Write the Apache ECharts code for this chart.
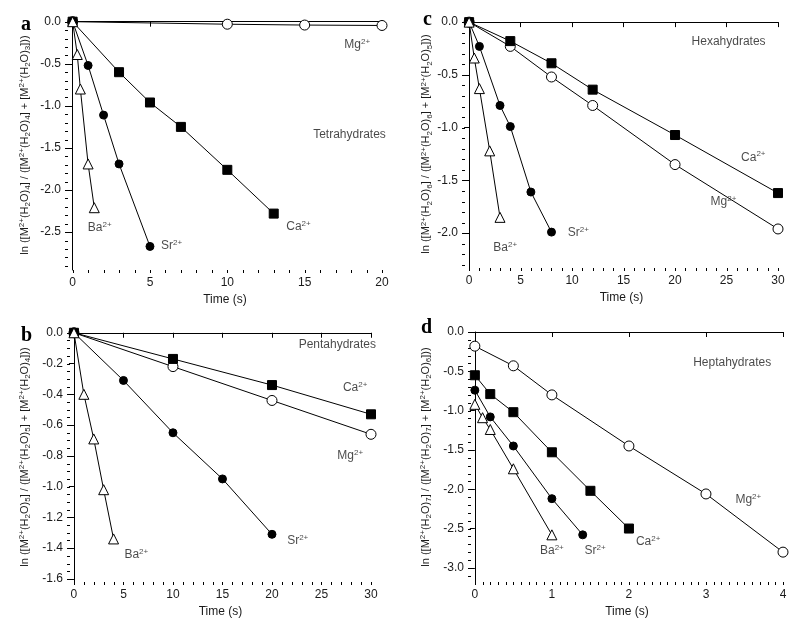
<!DOCTYPE html>
<html>
<head>
<meta charset="utf-8">
<script src="https://cdn.jsdelivr.net/npm/echarts@6/dist/echarts.min.js"></script>
<style>html,body{margin:0;padding:0;background:#fff}#c{width:800px;height:624px}</style>
</head>
<body>
<div id="c"></div>
<script>
// ---------- DATA ----------
// Panel a: tetrahydrates
const tetraMg = [[0,0],[10,-0.03],[15,-0.04],[20,-0.045]];
const tetraCa = [[0,0],[3,-0.6],[5,-0.96],[7,-1.25],[10,-1.76],[13,-2.28]];
const tetraSr = [[0,0],[1,-0.52],[2,-1.11],[3,-1.69],[5,-2.67]];
const tetraBa = [[0,0],[0.3,-0.39],[0.5,-0.8],[1,-1.69],[1.4,-2.21]];
// Panel b: pentahydrates
const pentaMg = [[0,0],[10,-0.22],[20,-0.44],[30,-0.66]];
const pentaCa = [[0,0],[10,-0.17],[20,-0.34],[30,-0.53]];
const pentaSr = [[0,0],[5,-0.31],[10,-0.65],[15,-0.95],[20,-1.31]];
const pentaBa = [[0,0],[1,-0.4],[2,-0.69],[3,-1.02],[4,-1.34]];
// Panel c: hexahydrates
const hexaMg = [[0,0],[4,-0.23],[8,-0.52],[12,-0.79],[20,-1.35],[30,-1.96]];
const hexaCa = [[0,0],[4,-0.18],[8,-0.39],[12,-0.64],[20,-1.07],[30,-1.62]];
const hexaSr = [[0,0],[1,-0.23],[3,-0.79],[4,-0.99],[6,-1.61],[8,-1.99]];
const hexaBa = [[0,0],[0.5,-0.34],[1,-0.63],[2,-1.22],[3,-1.85]];
// Panel d: heptahydrates
const heptaMg = [[0,-0.18],[0.5,-0.43],[1,-0.8],[2,-1.45],[3,-2.06],[4,-2.8]];
const heptaCa = [[0,-0.55],[0.2,-0.79],[0.5,-1.02],[1,-1.53],[1.5,-2.02],[2,-2.5]];
const heptaSr = [[0,-0.74],[0.2,-1.08],[0.5,-1.45],[1,-2.12],[1.4,-2.58]];
const heptaBa = [[0,-0.92],[0.1,-1.09],[0.2,-1.24],[0.5,-1.74],[1,-2.58]];

// tick labels
const xTicksA = [0,5,10,15,20];
const xTicksBC = [0,5,10,15,20,25,30];
const xTicksD = [0,1,2,3,4];
const yTicksA = [0,-0.5,-1,-1.5,-2,-2.5];
const yTicksB = [0,-0.2,-0.4,-0.6,-0.8,-1,-1.2,-1.4,-1.6];
const yTicksC = [0,-0.5,-1,-1.5,-2];
const yTicksD = [0,-0.5,-1,-1.5,-2,-2.5,-3];

// annotation texts [x, y, text]
const notesA = [[18.4,-0.27,'Mg{sup|2+}'],[17.9,-1.34,'Tetrahydrates'],[14.6,-2.44,'Ca{sup|2+}'],[6.4,-2.66,'Sr{sup|2+}'],[1.75,-2.45,'Ba{sup|2+}']];
const notesB = [[26.6,-0.08,'Pentahydrates'],[28.4,-0.36,'Ca{sup|2+}'],[27.9,-0.8,'Mg{sup|2+}'],[22.6,-1.35,'Sr{sup|2+}'],[6.3,-1.44,'Ba{sup|2+}']];
const notesC = [[25.2,-0.19,'Hexahydrates'],[27.6,-1.28,'Ca{sup|2+}'],[24.7,-1.7,'Mg{sup|2+}'],[10.6,-2.0,'Sr{sup|2+}'],[3.5,-2.14,'Ba{sup|2+}']];
const notesD = [[3.34,-0.39,'Heptahydrates'],[3.55,-2.13,'Mg{sup|2+}'],[2.25,-2.67,'Ca{sup|2+}'],[1.56,-2.78,'Sr{sup|2+}'],[1.0,-2.78,'Ba{sup|2+}']];

const yNameA = 'ln ([M{sup|2+}(H{sub|2}O){sub|4}] / ([M{sup|2+}(H{sub|2}O){sub|4}] + [M{sup|2+}(H{sub|2}O){sub|3}]))';
const yNameB = 'ln ([M{sup|2+}(H{sub|2}O){sub|5}] / ([M{sup|2+}(H{sub|2}O){sub|5}] + [M{sup|2+}(H{sub|2}O){sub|4}]))';
const yNameC = 'ln ([M{sup|2+}(H{sub|2}O){sub|6}] / ([M{sup|2+}(H{sub|2}O){sub|6}] + [M{sup|2+}(H{sub|2}O){sub|5}]))';
const yNameD = 'ln ([M{sup|2+}(H{sub|2}O){sub|7}] / ([M{sup|2+}(H{sub|2}O){sub|7}] + [M{sup|2+}(H{sub|2}O){sub|6}]))';

// ---------- CHART ----------
const FONT = '"Liberation Sans", Arial, sans-serif';
const TXT = '#1a1a1a';
function steps(a, b, s){ const out=[]; const n=Math.round((b-a)/s); for(let i=0;i<=n;i++) out.push(+(a+i*s).toFixed(4)); return out; }
const rich = {
  sup:{fontSize:8, verticalAlign:'top', lineHeight:14, fontFamily:FONT, color:TXT},
  sub:{fontSize:8, verticalAlign:'bottom', lineHeight:14, fontFamily:FONT, color:TXT}
};

const panels = [
  {grid:{left:68, top:20, width:314, height:250}, xMin:-0.3, xMax:20, yMin:-2.95, yMax:0.02,
   xT:xTicksA, xMinor:steps(0,20,1), yT:yTicksA, yMinor:steps(-2.9,0,0.1), yName:yNameA, yGap:36,
   series:[tetraMg,tetraCa,tetraSr,tetraBa], notes:notesA, letter:'a', lx:23, ly:22},
  {grid:{left:465, top:20, width:313, height:248}, xMin:-0.4, xMax:30, yMin:-2.33, yMax:0.02,
   xT:xTicksBC, xMinor:steps(0,30,1), yT:yTicksC, yMinor:steps(-2.3,0,0.1), yName:yNameC, yGap:26,
   series:[hexaMg,hexaCa,hexaSr,hexaBa], notes:notesC, letter:'c', lx:425, ly:17},
  {grid:{left:70, top:332, width:301, height:250}, xMin:-0.4, xMax:30, yMin:-1.62, yMax:0.005,
   xT:xTicksBC, xMinor:steps(0,30,1), yT:yTicksB, yMinor:steps(-1.6,0,0.05), yName:yNameB, yGap:38,
   series:[pentaMg,pentaCa,pentaSr,pentaBa], notes:notesB, letter:'b', lx:23, ly:333},
  {grid:{left:471, top:332, width:312, height:250}, xMin:-0.05, xMax:4, yMin:-3.18, yMax:0.0,
   xT:xTicksD, xMinor:steps(0,4,0.1), yT:yTicksD, yMinor:steps(-3.1,0,0.1), yName:yNameD, yGap:38,
   series:[heptaMg,heptaCa,heptaSr,heptaBa], notes:notesD, letter:'d', lx:423, ly:325}
];

const styles = [
  {symbol:'circle', size:10, fill:'#fff'},
  {symbol:'rect', size:9, fill:'#000'},
  {symbol:'circle', size:8, fill:'#000'},
  {symbol:'triangle', size:10, fill:'#fff'}
];

const option = {animation:false, backgroundColor:'#fff', grid:[], xAxis:[], yAxis:[], series:[], title:[]};
const lineAx = {show:true, lineStyle:{color:'#000', width:1}};
panels.forEach((p, i) => {
  option.grid.push(p.grid);
  option.xAxis.push({
    type:'value', gridIndex:i, min:p.xMin, max:p.xMax, position:'bottom',
    axisLine:lineAx, splitLine:{show:false},
    axisTick:{show:true, length:5, customValues:p.xT, lineStyle:{color:'#000'}},
    axisLabel:{customValues:p.xT, formatter:v=>String(v), color:TXT, fontSize:12, fontFamily:FONT, margin:7},
    name:'Time (s)', nameLocation:'middle', nameGap:24,
    nameTextStyle:{color:TXT, fontSize:12, fontFamily:FONT}
  });
  option.yAxis.push({
    type:'value', gridIndex:i, min:p.yMin, max:p.yMax, position:'left',
    axisLine:lineAx, splitLine:{show:false},
    axisTick:{show:true, length:5, customValues:p.yT, lineStyle:{color:'#000'}},
    axisLabel:{customValues:p.yT, formatter:v=>v.toFixed(1), color:TXT, fontSize:12, fontFamily:FONT, margin:7},
    name:p.yName, nameLocation:'middle', nameGap:p.yGap, nameRotate:90,
    nameTextStyle:{color:TXT, fontSize:11, fontFamily:FONT, lineHeight:14, rich:rich}
  });
  // minor ticks drawn through the axes' own scales
  option.series.push({
    type:'custom', xAxisIndex:i, yAxisIndex:i, clip:false, silent:true, z:1,
    data:p.xMinor.map(v => [v, 0]).concat(p.yMinor.map(v => [v, 1])),
    renderItem:(params, api) => {
      const v = api.value(0), isY = api.value(1);
      if (!isY) {
        const c = api.coord([v, p.yMin]);
        const x = Math.round(c[0]) + 0.5;
        return {type:'line', shape:{x1:x, y1:c[1], x2:x, y2:c[1] + 3}, style:{stroke:'#000', lineWidth:1}};
      }
      const c = api.coord([p.xMin, v]);
      const y = Math.round(c[1]) + 0.5;
      return {type:'line', shape:{x1:c[0] - 3, y1:y, x2:c[0], y2:y}, style:{stroke:'#000', lineWidth:1}};
    }
  });
  p.series.forEach((d, k) => {
    const s = styles[k];
    option.series.push({
      type:'line', xAxisIndex:i, yAxisIndex:i, data:d, clip:false,
      symbol:s.symbol, symbolSize:s.size, showSymbol:true,
      lineStyle:{color:'#000', width:1},
      itemStyle:{color:s.fill, borderColor:'#000', borderWidth:1},
      z:3+k
    });
  });
  option.series.push({
    type:'scatter', xAxisIndex:i, yAxisIndex:i, clip:false, symbolSize:1,
    itemStyle:{color:'rgba(0,0,0,0)'},
    data:p.notes.map(n => ({value:[n[0], n[1]], txt:n[2]})),
    label:{show:true, position:'inside', formatter:q=>q.data.txt, color:TXT, fontSize:12,
      fontFamily:FONT, lineHeight:14, rich:{sup:{fontSize:8, verticalAlign:'top', lineHeight:14, fontFamily:FONT, color:TXT}}}
  });
  option.title.push({text:p.letter, left:p.lx-7, top:p.ly-12,
    textStyle:{fontFamily:'"Liberation Serif", "Times New Roman", serif', fontWeight:'bold', fontSize:20, color:'#000'}});
});

const chart = echarts.init(document.getElementById('c'), null, {renderer:'canvas'});
chart.setOption(option);
</script>
</body>
</html>
